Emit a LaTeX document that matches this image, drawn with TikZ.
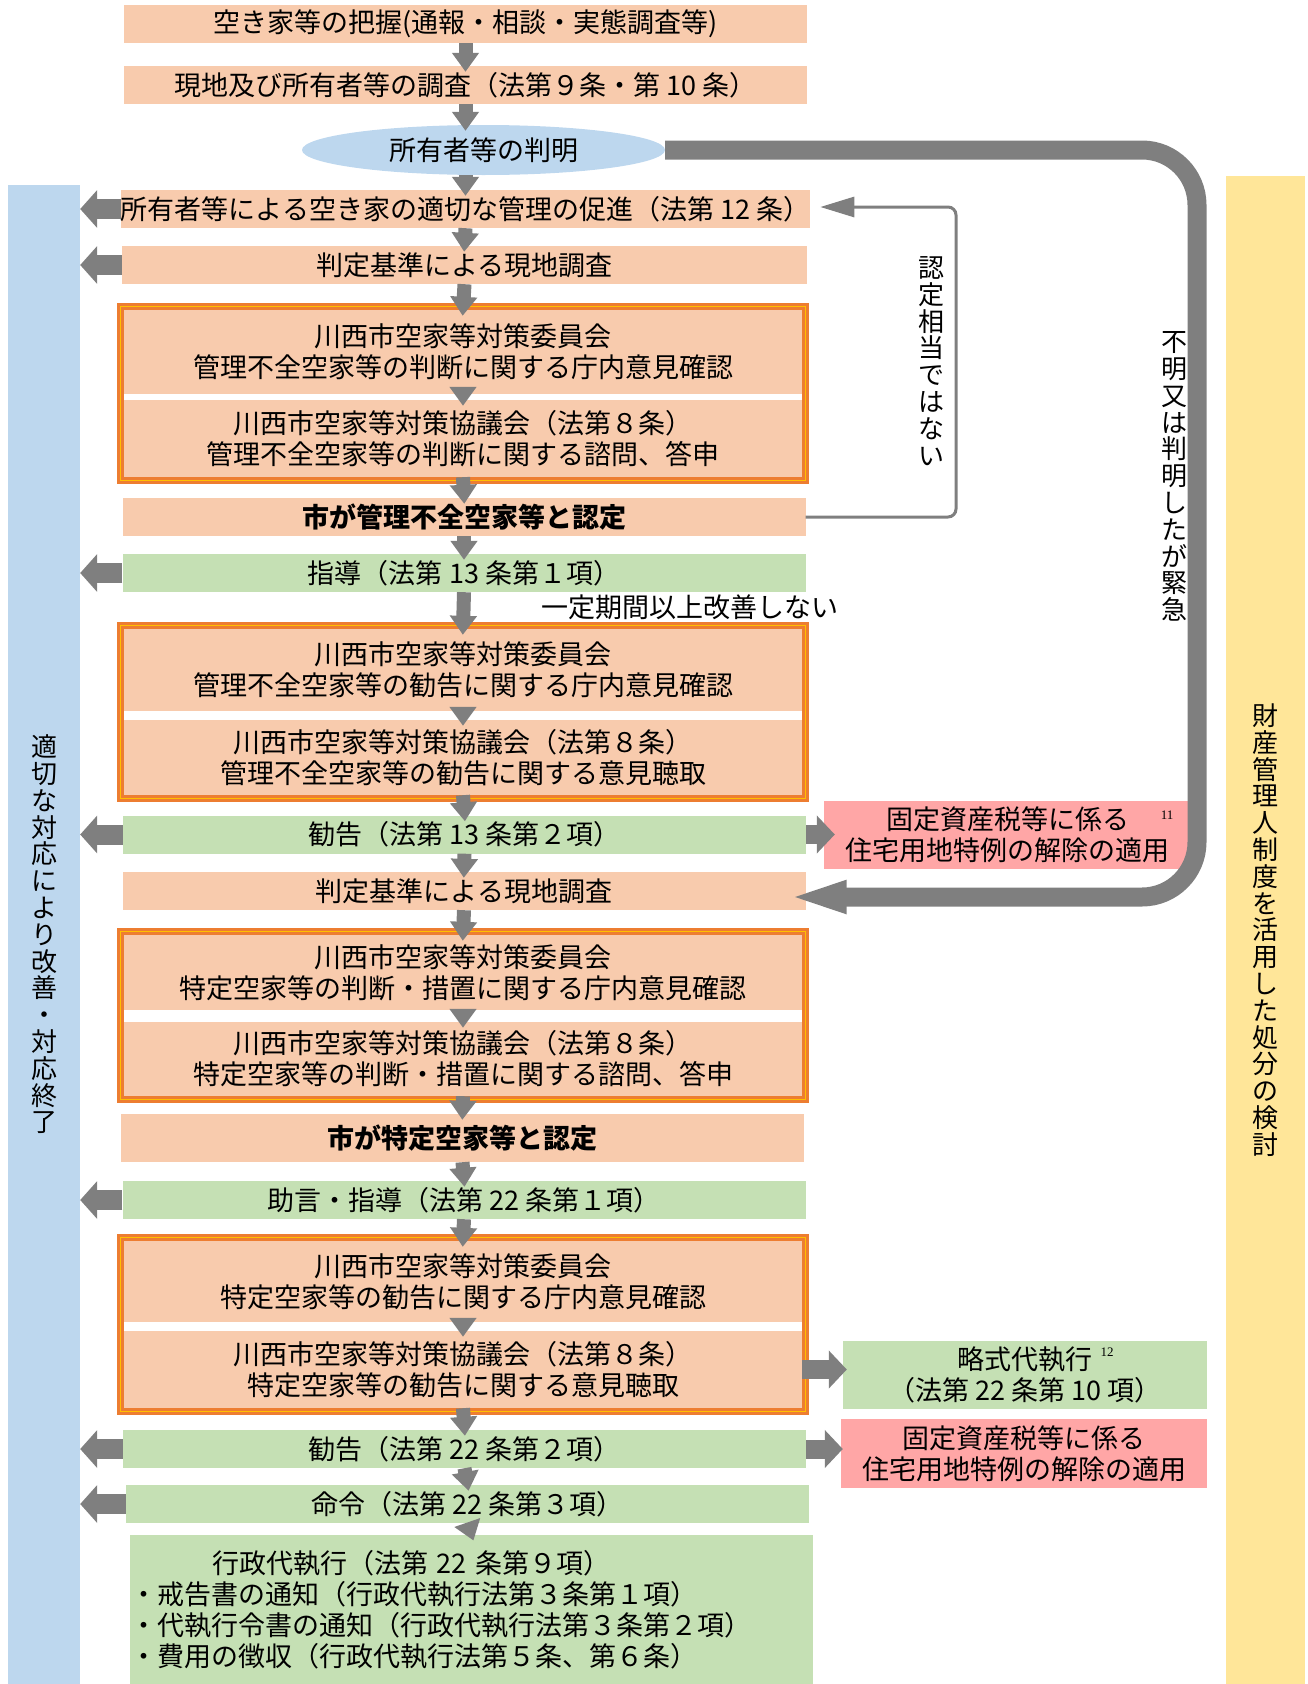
\documentclass[tikz,border=0pt]{standalone}
\usepackage{fontspec}
\setmainfont{Noto Sans CJK JP}
\newfontfamily\notefont{Liberation Serif}
\usetikzlibrary{arrows.meta,shapes.geometric,fit}

\definecolor{peach}{RGB}{248,203,173}
\definecolor{leaf}{RGB}{197,224,180}
\definecolor{sky}{RGB}{189,215,238}
\definecolor{sand}{RGB}{255,230,153}
\definecolor{rose}{RGB}{255,166,166}
\definecolor{arrowgray}{RGB}{127,127,127}
\definecolor{frameorange}{RGB}{237,125,49}
\definecolor{frameyellow}{RGB}{255,192,0}

\newcommand{\boxfont}{\fontsize{27}{31}\selectfont}
\newcommand{\vfont}{\fontsize{26}{26.8}\selectfont}

\tikzset{
  peachbox/.style={fill=peach, inner sep=0pt, minimum width=683pt, minimum height=38pt, align=center, font=\boxfont},
  leafbox/.style={peachbox, fill=leaf},
  rosebox/.style={peachbox, fill=rose},
  boldtext/.style={font=\boxfont\bfseries},
  frame/.style={draw=frameorange, double=frameyellow, double distance=1.5pt, line width=2.75pt, inner sep=3.5pt},
  bar/.style={inner sep=0pt, minimum width=72pt, align=center, font=\vfont},
  downarrow/.style={draw=arrowgray, line width=14pt, -{Triangle[length=19pt,width=26pt]}, shorten >=-6pt},
  sidearrow/.style={draw=arrowgray, line width=20pt, -{Triangle[length=17pt,width=37pt]}},
}

\begin{document}
\begin{tikzpicture}[x=1pt,y=1pt,yscale=-1]
\useasboundingbox (0,0) rectangle (1308,1684);

% Side bars
\node[bar, fill=sky, minimum height=1499pt] (endbar) at (44,934.5) {適\\切\\な\\対\\応\\に\\よ\\り\\改\\善\\・\\対\\応\\終\\了};
\node[bar, fill=sand, minimum width=79pt, minimum height=1508pt] (trustbar) at (1265.5,930) {財\\産\\管\\理\\人\\制\\度\\を\\活\\用\\し\\た\\処\\分\\の\\検\\討};

% First steps
\node[peachbox] (grasp) at (465.5,24) {空き家等の把握(通報・相談・実態調査等)};
\node[peachbox] (survey) at (465.5,85) {現地及び所有者等の調査（法第９条・第 10 条）};
\node[ellipse, fill=sky, inner sep=0pt, minimum width=363pt, minimum height=50pt, font=\boxfont] (owner) at (483.5,150) {所有者等の判明};
\node[peachbox] (promote) at (465.5,209) {所有者等による空き家の適切な管理の促進（法第 12 条）};
\node[peachbox, minimum width=685pt] (inspect) at (464.5,265) {判定基準による現地調査};

% Poorly managed houses
\node[peachbox, minimum width=678pt, minimum height=84pt] (mgmtcomm) at (463,352) {川西市空家等対策委員会\\管理不全空家等の判断に関する庁内意見確認};
\node[peachbox, minimum width=678pt, minimum height=77pt] (mgmtcouncil) at (463,438.5) {川西市空家等対策協議会（法第８条）\\管理不全空家等の判断に関する諮問、答申};
\node[frame, fit=(mgmtcomm)(mgmtcouncil)] (mgmtframe) {};
\node[peachbox, boldtext] (mgmtcert) at (464,517) {市が管理不全空家等と認定};
\node[leafbox] (guide) at (464,573) {指導（法第 13 条第１項）};
\node[font=\boxfont, inner sep=0pt] (noimprove) at (689.5,607) {一定期間以上改善しない};
\node[peachbox, minimum width=678pt, minimum height=82pt] (advcomm) at (463,670) {川西市空家等対策委員会\\管理不全空家等の勧告に関する庁内意見確認};
\node[peachbox, minimum width=678pt, minimum height=75pt] (advcouncil) at (463,757.5) {川西市空家等対策協議会（法第８条）\\管理不全空家等の勧告に関する意見聴取};
\node[frame, fit=(advcomm)(advcouncil)] (advframe) {};
\node[leafbox] (advise) at (464.5,834.5) {勧告（法第 13 条第２項）};
\node[rosebox, minimum width=367pt, minimum height=68pt] (taxone) at (1007.5,835) {固定資産税等に係る\\住宅用地特例の解除の適用};
\node[font=\notefont\fontsize{13}{13}\selectfont, inner sep=0pt] (noteone) at (1167,815) {11};
\node[peachbox] (recheck) at (464,891) {判定基準による現地調査};

% Specified houses
\node[peachbox, minimum width=678pt, minimum height=75pt] (specomm) at (463,972.5) {川西市空家等対策委員会\\特定空家等の判断・措置に関する庁内意見確認};
\node[peachbox, minimum width=678pt, minimum height=74pt] (specouncil) at (463,1059) {川西市空家等対策協議会（法第８条）\\特定空家等の判断・措置に関する諮問、答申};
\node[frame, fit=(specomm)(specouncil)] (speframe) {};
\node[peachbox, boldtext, minimum height=48pt] (specert) at (462.5,1138) {市が特定空家等と認定};
\node[leafbox] (counsel) at (464,1200) {助言・指導（法第 22 条第１項）};
\node[peachbox, minimum width=678pt, minimum height=81pt] (recomm) at (463,1281.5) {川西市空家等対策委員会\\特定空家等の勧告に関する庁内意見確認};
\node[peachbox, minimum width=678pt, minimum height=77pt] (recouncil) at (463,1369.5) {川西市空家等対策協議会（法第８条）\\特定空家等の勧告に関する意見聴取};
\node[frame, fit=(recomm)(recouncil)] (reframe) {};
\node[leafbox, minimum width=364pt, minimum height=68pt] (summary) at (1025,1375) {略式代執行\\（法第 22 条第 10 項）};
\node[font=\notefont\fontsize{13}{13}\selectfont, inner sep=0pt] (notetwo) at (1107,1352) {12};
\node[leafbox] (recommend) at (464.5,1449) {勧告（法第 22 条第２項）};
\node[rosebox, minimum width=366pt, minimum height=69pt] (taxtwo) at (1024,1453.5) {固定資産税等に係る\\住宅用地特例の解除の適用};
\node[leafbox] (order) at (467.5,1504) {命令（法第 22 条第３項）};
\node[leafbox, minimum height=149pt, text width=683pt, align=left] (execution) at (471.5,1609.5) {\hspace*{82pt}行政代執行（法第 22 条第９項）\\・戒告書の通知（行政代執行法第３条第１項）\\・代執行令書の通知（行政代執行法第３条第２項）\\・費用の徴収（行政代執行法第５条、第６条）};

% Vertical labels
\node[font=\vfont, align=center, inner sep=0pt] (notapply) at (931,361) {認\\定\\相\\当\\で\\は\\な\\い};
\node[font=\vfont, align=center, inner sep=0pt] (urgent) at (1174,476.5) {不\\明\\又\\は\\判\\明\\し\\た\\が\\緊\\急};

% Down arrows
\draw[downarrow] (grasp.south) -- (survey.north);
\draw[downarrow] (survey.south) -- (survey.south |- owner.north);
\draw[downarrow] (owner.south -| survey.south) -- (promote.north);
\draw[downarrow] (promote.south) -- (inspect.north);
\draw[downarrow] (inspect.south) -- (mgmtcomm.north);
\draw[downarrow] (mgmtcomm.south) -- (mgmtcouncil.north);
\draw[downarrow] (mgmtcouncil.south) -- (mgmtcert.north);
\draw[downarrow] (mgmtcert.south) -- (guide.north);
\draw[downarrow] (guide.south) -- (advcomm.north);
\draw[downarrow] (advcomm.south) -- (advcouncil.north);
\draw[downarrow] (advcouncil.south) -- (advise.north);
\draw[downarrow] (advise.south) -- (recheck.north);
\draw[downarrow] (recheck.south) -- (specomm.north);
\draw[downarrow] (specomm.south) -- (specouncil.north);
\draw[downarrow] (specouncil.south) -- (specert.north);
\draw[downarrow] (specert.south) -- (counsel.north);
\draw[downarrow] (counsel.south) -- (recomm.north);
\draw[downarrow] (recomm.south) -- (recouncil.north);
\draw[downarrow] (recouncil.south) -- (recommend.north);
\draw[downarrow] (recommend.south) -- (order.north);
\draw[downarrow] (order.south) -- (execution.north);

% Arrows to the left bar
\draw[sidearrow] (promote.west) -- (promote.west -| endbar.east);
\draw[sidearrow] (inspect.west) -- (inspect.west -| endbar.east);
\draw[sidearrow] (guide.west) -- (guide.west -| endbar.east);
\draw[sidearrow] (advise.west) -- (advise.west -| endbar.east);
\draw[sidearrow] (counsel.west) -- (counsel.west -| endbar.east);
\draw[sidearrow] (recommend.west) -- (recommend.west -| endbar.east);
\draw[sidearrow] (order.west) -- (order.west -| endbar.east);

% Arrows to the right
\draw[sidearrow, line width=19pt, -{Triangle[length=18pt,width=37pt]}, shorten >=-11pt] (advise.east) -- (taxone.west |- advise.east);
\draw[sidearrow, line width=19pt, -{Triangle[length=18pt,width=37pt]}, shorten >=-4pt] (recouncil.east) -- (summary.west |- recouncil.east);
\draw[sidearrow, line width=19pt, -{Triangle[length=18pt,width=37pt]}, shorten >=-2pt] (recommend.east) -- (taxtwo.west |- recommend.east);

% Return arrows
\coordinate (backturn) at (956,207);
\draw[draw=arrowgray, line width=3pt, rounded corners=8pt, -{Triangle[length=34pt,width=20pt]}, shorten >=10pt] (mgmtcert.east) -| (backturn) -- (backturn -| promote.east);
\coordinate (urgentturn) at (1197,897);
\draw[draw=arrowgray, line width=19pt, rounded corners=55pt, -{Triangle[length=64pt,width=28pt]}, shorten >=-23pt] (owner.east) -| (urgentturn) -- (urgentturn -| recheck.east);

\end{tikzpicture}
\end{document}
